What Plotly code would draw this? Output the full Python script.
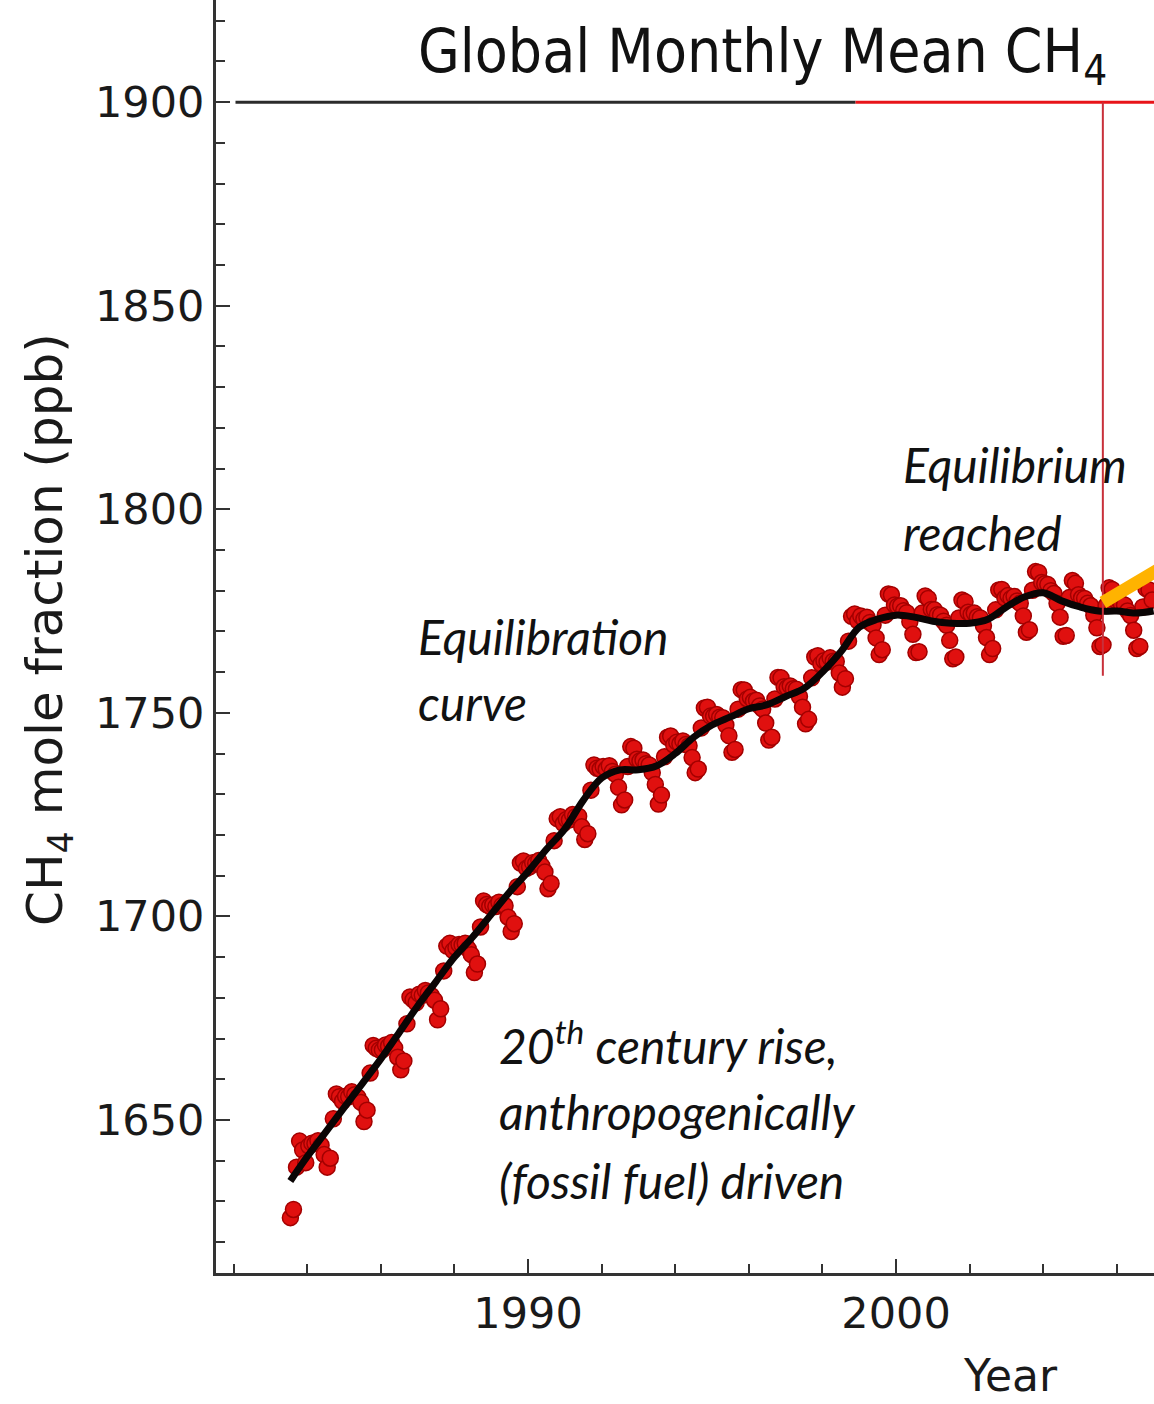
import plotly.graph_objects as go

# Global monthly mean CH4 (ppb), July 1983 through December 2006, one row per year
start_year = 1983
start_month = 7
ch4_monthly = [
    1626.0, 1628.0, 1638.4, 1644.8, 1642.6, 1639.5,                                   # 1983 Jul-Dec
    1643.6, 1644.3, 1644.2, 1644.9, 1643.8, 1641.5, 1638.4, 1640.6, 1650.3, 1656.4, 1655.7, 1654.6,  # 1984
    1655.8, 1655.7, 1656.9, 1656.2, 1655.6, 1654.3, 1649.6, 1652.4, 1661.5, 1668.3, 1667.6, 1667.2,  # 1985
    1667.2, 1668.4, 1668.1, 1669.0, 1667.7, 1665.4, 1662.3, 1664.5, 1673.6, 1680.2, 1679.5, 1678.8,  # 1986
    1680.9, 1680.6, 1681.8, 1681.2, 1680.5, 1679.4, 1674.6, 1677.3, 1686.6, 1692.7, 1693.4, 1691.6,  # 1987
    1692.3, 1693.1, 1693.0, 1693.4, 1692.0, 1690.6, 1686.2, 1688.3, 1697.4, 1703.8, 1702.9, 1702.5,  # 1988
    1702.8, 1702.4, 1703.5, 1702.7, 1702.6, 1699.8, 1696.3, 1698.2, 1707.3, 1713.1, 1713.6, 1711.8,  # 1989
    1712.2, 1713.2, 1713.0, 1713.7, 1712.4, 1710.9, 1706.8, 1708.1, 1718.6, 1724.0, 1724.5, 1722.8,  # 1990
    1723.8, 1723.7, 1725.0, 1724.5, 1724.6, 1722.0, 1718.9, 1720.3, 1731.0, 1737.2, 1736.4, 1736.2,  # 1991
    1736.8, 1736.2, 1737.0, 1735.6, 1734.9, 1731.7, 1727.4, 1728.6, 1736.8, 1741.7, 1741.3, 1738.6,  # 1992
    1738.2, 1738.4, 1737.5, 1737.2, 1735.3, 1732.4, 1727.6, 1729.8, 1739.2, 1744.0, 1744.3, 1742.1,  # 1993
    1742.8, 1742.4, 1743.1, 1742.2, 1741.9, 1739.0, 1735.3, 1736.2, 1746.3, 1751.2, 1751.4, 1749.2,  # 1994
    1749.2, 1749.6, 1748.9, 1748.8, 1747.0, 1744.4, 1740.3, 1741.0, 1750.9, 1755.7, 1755.6, 1753.4,  # 1995
    1753.8, 1752.9, 1753.1, 1751.7, 1750.9, 1747.5, 1743.3, 1744.0, 1753.4, 1758.7, 1758.6, 1756.4,  # 1996
    1756.2, 1756.6, 1755.9, 1755.8, 1754.0, 1751.4, 1747.3, 1748.4, 1758.6, 1763.7, 1764.0, 1762.0,  # 1997
    1762.8, 1762.5, 1763.5, 1762.7, 1762.6, 1759.8, 1756.3, 1758.4, 1767.6, 1773.7, 1774.3, 1772.6,  # 1998
    1773.8, 1773.0, 1773.5, 1772.2, 1771.6, 1768.4, 1764.3, 1765.5, 1774.0, 1779.2, 1779.0, 1776.5,  # 1999
    1776.2, 1776.3, 1775.1, 1774.6, 1772.4, 1769.3, 1764.8, 1765.0, 1774.5, 1778.7, 1778.1, 1775.4,  # 2000
    1775.3, 1774.1, 1774.0, 1772.5, 1771.5, 1767.8, 1763.3, 1763.7, 1773.3, 1777.7, 1777.3, 1774.7,  # 2001
    1774.2, 1774.5, 1773.6, 1773.3, 1771.4, 1768.5, 1764.3, 1765.8, 1775.3, 1780.2, 1780.3, 1778.2,  # 2002
    1778.8, 1778.1, 1778.6, 1777.5, 1776.9, 1773.8, 1769.8, 1770.4, 1780.1, 1784.7, 1784.5, 1782.0,  # 2003
    1781.7, 1781.5, 1780.0, 1779.3, 1776.9, 1773.5, 1768.8, 1769.0, 1778.3, 1782.5, 1781.8, 1779.0,  # 2004
    1778.2, 1778.1, 1776.9, 1776.3, 1774.0, 1770.9, 1766.3, 1766.7, 1776.3, 1780.7, 1780.3, 1777.7,  # 2005
    1777.8, 1776.6, 1776.5, 1775.0, 1773.9, 1770.3, 1765.8, 1766.3, 1776.0, 1780.5, 1780.2, 1777.7,  # 2006
]

# Deseasonalized trend (equilibration curve), half-yearly
trend_years = [
    1983.54, 1984.0, 1984.5, 1985.0, 1985.5, 1986.0, 1986.5, 1987.0, 1987.5, 1988.0,
    1988.5, 1989.0, 1989.5, 1990.0, 1990.5, 1991.0, 1991.5, 1992.0, 1992.5, 1993.0,
    1993.5, 1994.0, 1994.5, 1995.0, 1995.5, 1996.0, 1996.5, 1997.0, 1997.5, 1998.0,
    1998.5, 1999.0, 1999.5, 2000.0, 2000.5, 2001.0, 2001.5, 2002.0, 2002.5, 2003.0,
    2003.5, 2004.0, 2004.5, 2005.0, 2005.5, 2006.0, 2006.5, 2007.0,
]
trend_ch4 = [
    1635.0, 1641.0, 1647.0, 1653.0, 1659.0, 1665.0, 1671.5, 1678.0, 1684.0, 1690.0,
    1695.0, 1700.5, 1706.0, 1711.0, 1716.5, 1721.5, 1728.5, 1734.0, 1736.0, 1736.0,
    1737.0, 1740.0, 1744.0, 1747.0, 1749.0, 1751.0, 1752.0, 1754.0, 1756.0, 1760.0,
    1765.0, 1771.0, 1773.0, 1774.0, 1773.5, 1772.5, 1772.0, 1772.0, 1773.0, 1776.0,
    1778.5, 1779.5, 1777.5, 1776.0, 1775.0, 1775.0, 1774.5, 1775.0,
]

# Reference markers
level_1900 = 1900
level_split_year = 1998.9
level_start_year = 1982.05
marker_year = 2005.62
marker_bottom = 1759.1
arrow_start = (2005.62, 1777.1)
arrow_end = (2008.0, 1789.8)

# Decimal year at mid-month for each monthly value
month_years = []
for i in range(len(ch4_monthly)):
    m = start_month - 1 + i
    month_years.append(start_year + m // 12 + ((m % 12) + 0.5) / 12.0)

X0, X1 = 1981.52, 2007.01
Y0, Y1 = 1612.4, 1925.1
L, B, W, H = 216, 131, 1154, 1404
PW, PH = W - L, H - B


def px(xp):
    return (xp - L) / PW


def py(yp):
    return (PH - yp) / PH


fig = go.Figure()

fig.add_trace(go.Scatter(
    x=month_years, y=ch4_monthly, mode="markers",
    marker=dict(size=16, color="#e0100f", line=dict(color="#a30000", width=1.5)),
    hoverinfo="x+y", showlegend=False,
))
fig.add_trace(go.Scatter(
    x=trend_years, y=trend_ch4, mode="lines",
    line=dict(color="#0a0505", width=7, shape="spline", smoothing=1.0),
    showlegend=False,
))

shapes = [
    dict(type="line", xref="x", yref="y", x0=level_start_year, x1=level_split_year,
         y0=level_1900, y1=level_1900, line=dict(color="#2b2b2b", width=3)),
    dict(type="line", xref="x", yref="y", x0=level_split_year, x1=X1 + 1,
         y0=level_1900, y1=level_1900, line=dict(color="#e8141a", width=3)),
    dict(type="line", xref="x", yref="y", x0=marker_year, x1=marker_year,
         y0=level_1900, y1=marker_bottom, line=dict(color="#c8303a", width=2)),
    dict(type="line", xref="x", yref="y", x0=arrow_start[0], x1=arrow_end[0],
         y0=arrow_start[1], y1=arrow_end[1], line=dict(color="#ffb300", width=13)),
]

italic = dict(family="Lato", size=48, color="#111111", style="italic")
annotations = [
    dict(text="Global Monthly Mean CH<sub>4</sub>", x=px(762), y=py(56),
         font=dict(family="DejaVu Sans Condensed, Liberation Sans Narrow, sans-serif",
                   size=60, color="#111111")),
    dict(text="Equilibration", x=px(416), y=py(636), xanchor="left", font=italic),
    dict(text="curve", x=px(416), y=py(702), xanchor="left", font=italic),
    dict(text="Equilibrium", x=px(901), y=py(464), xanchor="left", font=italic),
    dict(text="reached", x=px(901), y=py(532), xanchor="left", font=italic),
    dict(text="20<sup>th</sup> century rise,", x=px(497), y=py(1042), xanchor="left", font=italic),
    dict(text="anthropogenically", x=px(497), y=py(1111), xanchor="left", font=italic),
    dict(text="(fossil fuel) driven", x=px(497), y=py(1180), xanchor="left", font=italic),
    dict(text="Year", x=px(1010), y=py(1375),
         font=dict(family="DejaVu Sans", size=44, color="#1a1a1a")),
    dict(text="CH<sub>4</sub> mole fraction (ppb)", x=px(48), y=py(630), textangle=-90,
         font=dict(family="DejaVu Sans", size=50, color="#1a1a1a")),
]
for a in annotations:
    a.setdefault("xref", "paper")
    a.setdefault("yref", "paper")
    a.setdefault("showarrow", False)
    a.setdefault("xanchor", "center")
    a.setdefault("yanchor", "middle")

axis_common = dict(
    showline=True, linecolor="#333333", linewidth=3, showgrid=False, zeroline=False,
    ticks="inside", ticklen=14, tickwidth=2, tickcolor="#333333",
    tickfont=dict(family="DejaVu Sans", size=43, color="#1a1a1a"),
)

fig.update_layout(
    width=W, height=H,
    margin=dict(l=L, r=0, t=0, b=B),
    paper_bgcolor="white", plot_bgcolor="white",
    shapes=shapes, annotations=annotations,
    xaxis=dict(range=[X0, X1], tick0=1990, dtick=10,
               minor=dict(ticks="inside", ticklen=9, tickwidth=2, tickcolor="#333333",
                          tick0=1980, dtick=2),
               **axis_common),
    yaxis=dict(range=[Y0, Y1], tick0=1650, dtick=50,
               minor=dict(ticks="inside", ticklen=9, tickwidth=2, tickcolor="#333333",
                          tick0=1650, dtick=10),
               **axis_common),
)

fig.write_html("out.html")
